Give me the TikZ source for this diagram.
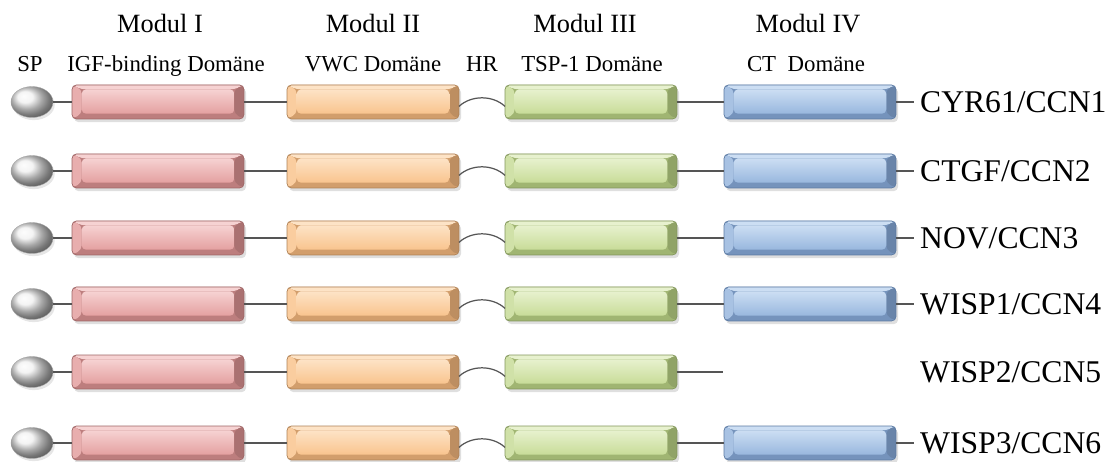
\documentclass[tikz,border=0pt]{standalone}
\usepackage{fontspec}
\setmainfont{Liberation Serif}
\usepackage{tikz}
\usetikzlibrary{shapes, positioning, calc, shadows}

% colours of the four modules
\definecolor{pinkface}{HTML}{E4A0A0}
\definecolor{pinklight}{HTML}{F6D2D2}
\definecolor{pinkdark}{HTML}{BD7E7E}
\definecolor{pinkedge}{HTML}{9E6666}
\definecolor{orangeface}{HTML}{F9C48E}
\definecolor{orangelight}{HTML}{FDE3C6}
\definecolor{orangedark}{HTML}{D29E6C}
\definecolor{orangeedge}{HTML}{AE8258}
\definecolor{greenface}{HTML}{C8DC98}
\definecolor{greenlight}{HTML}{E7F1CE}
\definecolor{greendark}{HTML}{A0B572}
\definecolor{greenedge}{HTML}{82955C}
\definecolor{blueface}{HTML}{98B7DE}
\definecolor{bluelight}{HTML}{CCDEF3}
\definecolor{bluedark}{HTML}{7593BC}
\definecolor{blueedge}{HTML}{5C7AA2}
\definecolor{linkgray}{HTML}{555555}

\begin{document}
\begin{tikzpicture}[x=0.02cm, y=-0.02cm]
    % Styles
    \tikzset{
      bar/.style={rectangle, rounded corners=2.5pt, minimum width=3.44cm, minimum height=0.68cm,
        inner sep=0pt, outer sep=0pt, draw=#1edge, line width=0.4pt, fill=#1dark,
        drop shadow={shadow xshift=1.2pt, shadow yshift=-1.8pt, opacity=0.25},
        path picture={
          \coordinate (nw) at (path picture bounding box.north west);
          \coordinate (ne) at (path picture bounding box.north east);
          \coordinate (sw) at (path picture bounding box.south west);
          \coordinate (se) at (path picture bounding box.south east);
          \fill[#1light] (nw) -- (ne) -- ($(ne)+(-5.5pt,-2.5pt)$) -- ($(nw)+(5.5pt,-2.5pt)$) -- cycle;
          \fill[#1face!85!white] (nw) -- ($(nw)+(5.5pt,-2.5pt)$) -- ($(sw)+(5.5pt,3pt)$) -- (sw) -- cycle;
          \fill[#1dark!90!black] (ne) -- ($(ne)+(-5.5pt,-2.5pt)$) -- ($(se)+(-5.5pt,3pt)$) -- (se) -- cycle;
          \shade[top color=#1light, middle color=#1face, bottom color=#1face]
            ($(sw)+(5.5pt,3pt)$) rectangle ($(ne)+(-5.5pt,-2.5pt)$);
        }},
      sp/.style={ellipse, minimum width=0.84cm, minimum height=0.62cm, inner sep=0pt, outer sep=0pt,
        ball color=gray!12!white, draw=gray!70, line width=0.2pt,
        drop shadow={shadow xshift=1pt, shadow yshift=-1.5pt, opacity=0.2}},
      link/.style={draw=linkgray, line width=0.7pt},
      modul/.style={anchor=base, font=\fontsize{15}{18}\selectfont},
      domlabel/.style={anchor=base, font=\fontsize{13}{16}\selectfont},
      protein/.style={anchor=base west, font=\fontsize{18}{22}\selectfont}
    }
    \useasboundingbox (0,0) rectangle (1117,462);

    % Headings
    \node [modul] (m1) at (160,33) {Modul I};
    \node [modul] (m2) at (373,33) {Modul II};
    \node [modul] (m3) at (585,33) {Modul III};
    \node [modul] (m4) at (808,33) {Modul IV};
    \node [domlabel] (dsp) at (30,72) {SP};
    \node [domlabel] (digf) at (166,72) {IGF-binding Domäne};
    \node [domlabel] (dvwc) at (373,72) {VWC Domäne};
    \node [domlabel] (dhr) at (482,72) {HR};
    \node [domlabel] (dtsp) at (592,72) {TSP-1 Domäne};
    \node [domlabel] (dct) at (806,72) {CT\ \ Domäne};

    % Rows
    \foreach \y/\a/\b/\ct [count=\i] in {101/CYR61/CCN1/1, 170/CTGF/CCN2/1, 237/NOV/CCN3/1,
                                          303/WISP1/CCN4/1, 371/WISP2/CCN5/0, 442/WISP3/CCN6/1} {
      \node [sp] (s\i) at (32,\y+1) {};
      \node [bar=pink] (p\i) at (158,\y+1) {};
      \node [bar=orange] (o\i) at (373,\y+1) {};
      \node [bar=green] (g\i) at (591,\y+1) {};
      \node [protein] (n\i) at (914,\y+12) {\a/\b};

      % Connections
      \draw [link] (s\i) -- (p\i);
      \draw [link] (p\i) -- (o\i);
      \draw [link] ([yshift=-2.5pt]o\i.east) .. controls +(7pt,6.5pt) and +(-7pt,6.5pt) .. ([yshift=-2.5pt]g\i.west);
      \ifnum\ct=1
        \node [bar=blue] (b\i) at (810,\y+1) {};
        \draw [link] (g\i) -- (b\i);
        \draw [link] (b\i.east) -- (b\i.east -| n\i.west);
      \else
        \coordinate (e\i) at (723,\y+1);
        \draw [link] (g\i.east) -- (e\i);
      \fi
    }
\end{tikzpicture}
\end{document}
